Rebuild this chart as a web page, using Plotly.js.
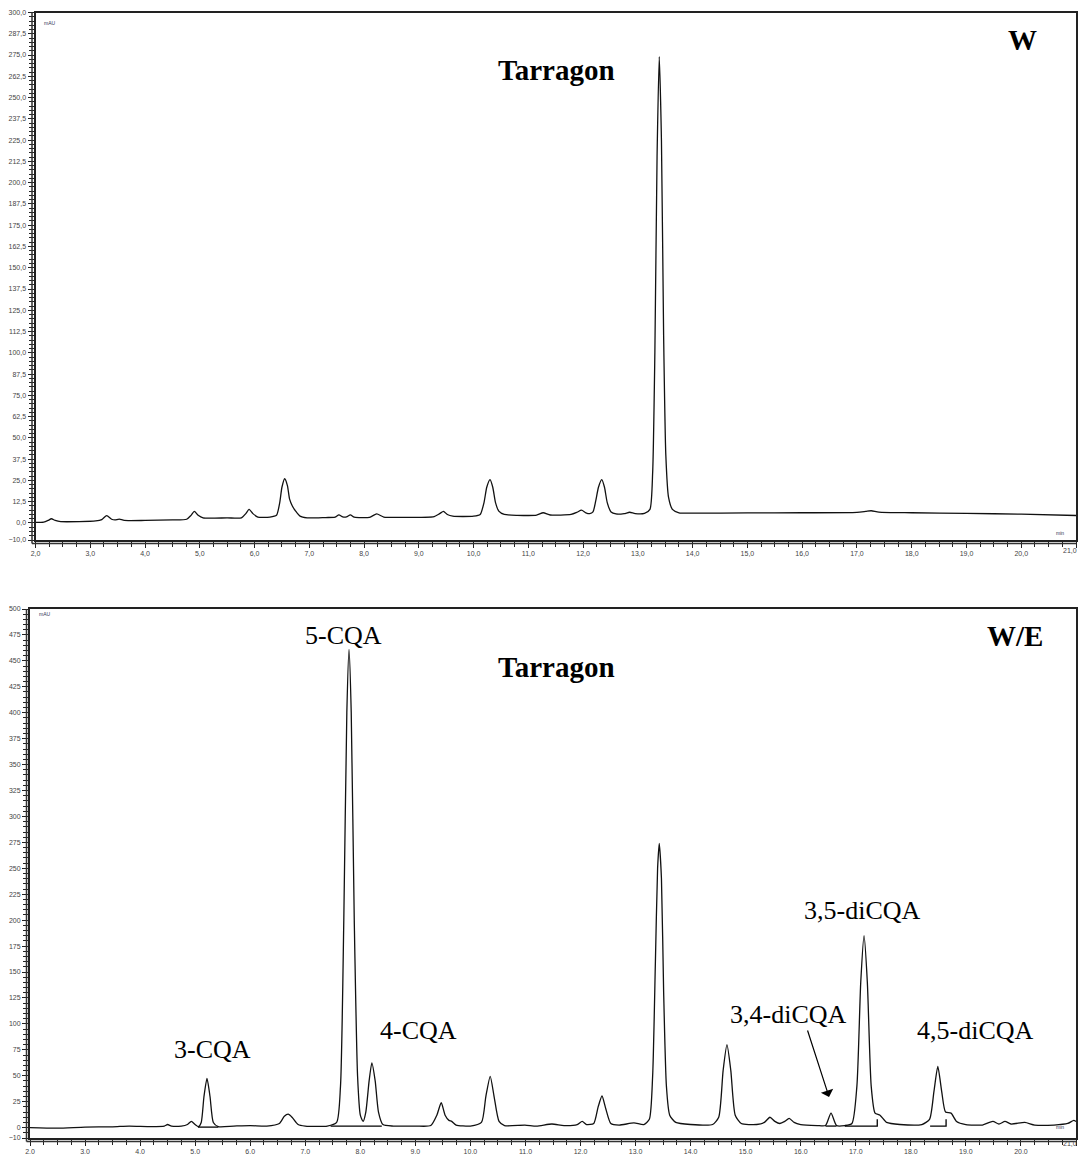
<!DOCTYPE html>
<html>
<head>
<meta charset="utf-8">
<script src="https://cdn.plot.ly/plotly-3.0.1.min.js"></script>
<style>
html,body{margin:0;padding:0;background:#fff;}
#chart{width:1082px;height:1154px;}
</style>
</head>
<body>
<div id="chart"></div>
<script>
// ---------- DATA ----------
// Panel W (water extract): retention time (min) and absorbance (mAU)
const wTime = [2.00,2.15,2.23,2.29,2.36,2.46,2.80,3.10,3.21,3.30,3.39,3.45,3.53,3.62,4.00,4.50,4.76,4.84,4.90,4.97,5.06,5.50,5.76,5.84,5.90,5.97,6.06,6.28,6.40,6.46,6.50,6.55,6.60,6.64,6.69,6.75,6.83,6.96,7.30,7.47,7.54,7.61,7.68,7.75,7.82,8.10,8.23,8.36,8.70,9.28,9.38,9.45,9.52,9.62,10.00,10.12,10.19,10.24,10.30,10.35,10.40,10.46,10.56,10.80,11.15,11.27,11.40,11.78,11.89,11.97,12.05,12.12,12.18,12.23,12.28,12.34,12.39,12.44,12.51,12.60,12.75,12.85,12.95,13.12,13.22,13.27,13.31,13.35,13.39,13.43,13.47,13.51,13.56,13.63,13.75,14.00,15.00,16.00,17.00,17.16,17.26,17.40,18.00,19.00,20.00,21.00];
const wSignal = [0.3,0.5,1.5,2.5,1.5,0.8,0.8,1.2,2.0,4.3,2.2,1.8,2.3,1.5,1.5,1.8,2.2,4.5,6.8,4.5,3.0,3.0,3.0,5.5,8.0,5.5,3.5,3.5,4.5,12,21,26,22,14,10,7,4,3,3.2,3.4,4.8,3.6,3.6,4.8,3.4,3.3,5.3,3.5,3.3,3.8,5.5,6.8,5.0,4.0,4.0,5,12,21,25.5,21,12,7,5,4.5,4.6,6,4.7,5,6.3,7.5,6,5.5,6.5,13,21,25.5,21,12,6.5,5.3,5.5,6.3,5.5,5.6,8,30,100,215,274,225,110,40,15,8,6,5.8,5.9,6.0,6.2,6.8,7.2,6.4,6.0,5.6,5.2,4.4];

// Panel W/E (water/ethanol extract)
const weTime = [2.00,2.50,3.00,3.50,3.80,4.20,4.44,4.50,4.57,4.75,4.86,4.93,5.00,5.06,5.11,5.16,5.215,5.27,5.33,5.42,5.70,6.00,6.30,6.53,6.62,6.69,6.76,6.87,7.00,7.40,7.57,7.64,7.70,7.755,7.795,7.835,7.89,7.95,8.00,8.05,8.10,8.16,8.21,8.27,8.33,8.41,8.60,9.00,9.28,9.39,9.47,9.54,9.61,9.66,9.74,10.00,10.20,10.28,10.36,10.43,10.52,10.62,10.99,11.20,11.48,11.70,11.94,12.03,12.11,12.24,12.32,12.39,12.46,12.55,12.70,12.97,13.15,13.25,13.31,13.36,13.40,13.43,13.47,13.51,13.56,13.62,13.73,14.00,14.40,14.51,14.59,14.66,14.73,14.81,14.92,15.20,15.34,15.44,15.53,15.62,15.71,15.79,15.88,16.00,16.30,16.45,16.55,16.65,16.80,16.93,17.02,17.09,17.15,17.21,17.28,17.35,17.44,17.56,17.80,18.20,18.34,18.42,18.49,18.56,18.63,18.73,18.83,19.00,19.30,19.49,19.60,19.71,19.82,20.07,20.25,20.60,20.85,20.96,21.00];
const weSignal = [0,-0.5,0.5,0.8,1.5,1.0,1.5,3,1.5,1.5,3,6,3,1,5,30,47.5,30,5,1,1.5,2,1.5,4,11,13,10,3,1.5,1.5,5,40,200,400,461,400,200,50,12,6,15,45,62.5,45,15,3,1.5,1.5,2,12,24,12,7,6,2.5,1.5,5,30,49.5,30,6,2,2.5,1.5,3.5,2,3,6,3,4,20,30.5,18,4,2.5,4.5,3,8,50,160,250,274,240,130,40,12,5,3,3,10,55,80,55,12,4,3,5,10,6,4,6,9,5,3,2,2,14,2,2,4,40,140,185,140,40,14,12,5,3,3,8,35,59,35,15,14,6,3,2.5,6,3.5,6,3.5,5,2.5,2.5,4,7,6];

// Integration baselines drawn under peaks (start, end, level, right tick height)
const baseStart = [5.05, 7.46, 16.45, 16.80, 18.35];
const baseEnd   = [5.42, 8.39, 16.65, 17.39, 18.64];
const baseLevel = [0.5, 1.5, 1.5, 1.5, 1.5];
const baseTick  = [0, 0, 0, 8, 8];

// Tick labels
const xTicks = [2,3,4,5,6,7,8,9,10,11,12,13,14,15,16,17,18,19,20,21];
const yTicksW = [-10,0,12.5,25,37.5,50,62.5,75,87.5,100,112.5,125,137.5,150,162.5,175,187.5,200,212.5,225,237.5,250,262.5,275,287.5,300];
const yTicksWE = [-10,0,25,50,75,100,125,150,175,200,225,250,275,300,325,350,375,400,425,450,475,500];

// Peak labels
const labelText = ["5-CQA","3-CQA","4-CQA","3,4-diCQA","3,5-diCQA","4,5-diCQA"];
const labelT    = [7.70, 5.31, 9.05, 15.77, 17.13, 19.18];
const labelV    = [474.9, 75.8, 94.1, 108.6, 208.9, 94.1];

// ---------- LAYOUT HELPERS ----------
const W = 1082, H = 1154;
const px = v => v / W;
const py = v => 1 - v / H;
const steps = (a, b, d) => { const o = []; for (let v = a; v <= b + 1e-9; v += d) o.push(+v.toFixed(4)); return o; };

const tickFont = {family: 'Liberation Sans, Arial', size: 7, color: '#444'};
function xAxis(dom, anchor) {
  return {
    domain: dom, anchor: anchor, range: [2, 21],
    tickmode: 'array', tickvals: xTicks, tickformat: '.1f',
    ticks: 'outside', ticklen: 6, tickwidth: 1, tickcolor: '#222',
    minor: {tickmode: 'array', tickvals: steps(2, 21, 0.25), ticks: 'outside', ticklen: 5, tickcolor: '#222', tickwidth: 1},
    showline: true, linewidth: 2, linecolor: '#222', mirror: true,
    showgrid: false, zeroline: false, tickfont: tickFont, automargin: false, fixedrange: true
  };
}
function yAxis(dom, anchor, range, vals, fmt, mdt) {
  return {
    domain: dom, anchor: anchor, range: range,
    tickmode: 'array', tickvals: vals, tickformat: fmt,
    ticks: 'outside', ticklen: 6, tickwidth: 1, tickcolor: '#222',
    minor: {tickmode: 'array', tickvals: steps(range[0], range[1], mdt), ticks: 'outside', ticklen: 5, tickcolor: '#222', tickwidth: 1},
    showline: true, linewidth: 2, linecolor: '#222', mirror: true,
    showgrid: false, zeroline: false, tickfont: tickFont, automargin: false, fixedrange: true
  };
}

const lineStyle = {color: '#111', width: 1.3, shape: 'spline', smoothing: 0.6};

const traces = [
  {x: wTime, y: wSignal, xaxis: 'x', yaxis: 'y', mode: 'lines', line: lineStyle, hoverinfo: 'skip'},
  {x: weTime, y: weSignal, xaxis: 'x2', yaxis: 'y2', mode: 'lines', line: lineStyle, hoverinfo: 'skip'}
];
// integration baselines
for (let i = 0; i < baseStart.length; i++) {
  const xs = [baseStart[i], baseEnd[i]];
  const ys = [baseLevel[i], baseLevel[i]];
  if (baseTick[i] > 0) { xs.push(baseEnd[i]); ys.push(baseTick[i]); }
  traces.push({x: xs, y: ys, xaxis: 'x2', yaxis: 'y2', mode: 'lines',
               line: {color: '#000', width: 1.3}, hoverinfo: 'skip'});
}

const serif = 'Liberation Serif, Times New Roman, serif';
const small = {family: 'Liberation Sans', size: 5, color: '#335'};
const annotations = [
  {xref: 'x', yref: 'y', x: 11.505, y: 266.2, text: '<b>Tarragon</b>', showarrow: false, font: {family: serif, size: 29, color: '#000'}},
  {xref: 'x', yref: 'y', x: 20.03, y: 283.8, text: '<b>W</b>', showarrow: false, font: {family: serif, size: 29, color: '#000'}},
  {xref: 'x2', yref: 'y2', x: 11.555, y: 444.1, text: '<b>Tarragon</b>', showarrow: false, font: {family: serif, size: 29, color: '#000'}},
  {xref: 'x2', yref: 'y2', x: 19.893, y: 474, text: '<b>W/E</b>', showarrow: false, font: {family: serif, size: 29, color: '#000'}},
  {xref: 'x2', yref: 'y2', x: 16.514, y: 29.6, ax: 16.115, ay: 95.1, axref: 'x2', ayref: 'y2',
   text: '', showarrow: true, arrowhead: 1, arrowsize: 1.8, arrowwidth: 1.2, arrowcolor: '#000'},
  {xref: 'paper', yref: 'paper', x: px(42), y: py(18), text: 'mAU', showarrow: false, font: small},
  {xref: 'paper', yref: 'paper', x: px(1066), y: py(533), text: 'min', showarrow: false, font: small},
  {xref: 'paper', yref: 'paper', x: px(37), y: py(614), text: 'mAU', showarrow: false, font: small},
  {xref: 'paper', yref: 'paper', x: px(1066), y: py(1132), text: 'min', showarrow: false, font: small},
  {xref: 'paper', yref: 'paper', x: px(1079), y: py(550), text: '21,0', showarrow: false, font: tickFont},
  {xref: 'paper', yref: 'paper', x: px(1079), y: py(1149), text: '21,0', showarrow: false, font: tickFont}
];
for (let i = 0; i < labelText.length; i++) {
  annotations.push({xref: 'x2', yref: 'y2', x: labelT[i], y: labelV[i], text: labelText[i],
    showarrow: false, font: {family: serif, size: 26, color: '#000'}});
}

// outer second lines (double frame on left & bottom), in paper coordinates
const frames = [[35.5, 1076, 12.5, 540], [30, 1076, 609, 1138]];
const shapes = [];
frames.forEach(([l, r, t, b]) => {
  shapes.push({type: 'line', xref: 'paper', yref: 'paper', x0: px(l - 3.5), x1: px(l - 3.5), y0: py(b + 3.5), y1: py(t), line: {color: '#333', width: 1.5}});
  shapes.push({type: 'line', xref: 'paper', yref: 'paper', x0: px(l - 3.5), x1: px(r), y0: py(b + 3.5), y1: py(b + 3.5), line: {color: '#333', width: 1.5}});
});

const layout = {
  width: W, height: H,
  margin: {l: 0, r: 0, t: 0, b: 0},
  paper_bgcolor: '#fff', plot_bgcolor: '#fff',
  showlegend: false, separators: ', ',
  xaxis: xAxis([px(35.5), px(1076)], 'y'),
  yaxis: yAxis([py(540), py(12.5)], 'x', [-10, 300], yTicksW, '.1f', 2.5),
  xaxis2: xAxis([px(30), px(1076)], 'y2'),
  yaxis2: yAxis([py(1138), py(609)], 'x2', [-10, 500], yTicksWE, 'd', 5),
  annotations: annotations,
  shapes: shapes
};

Plotly.newPlot('chart', traces, layout, {staticPlot: true, displayModeBar: false});
</script>
</body>
</html>
